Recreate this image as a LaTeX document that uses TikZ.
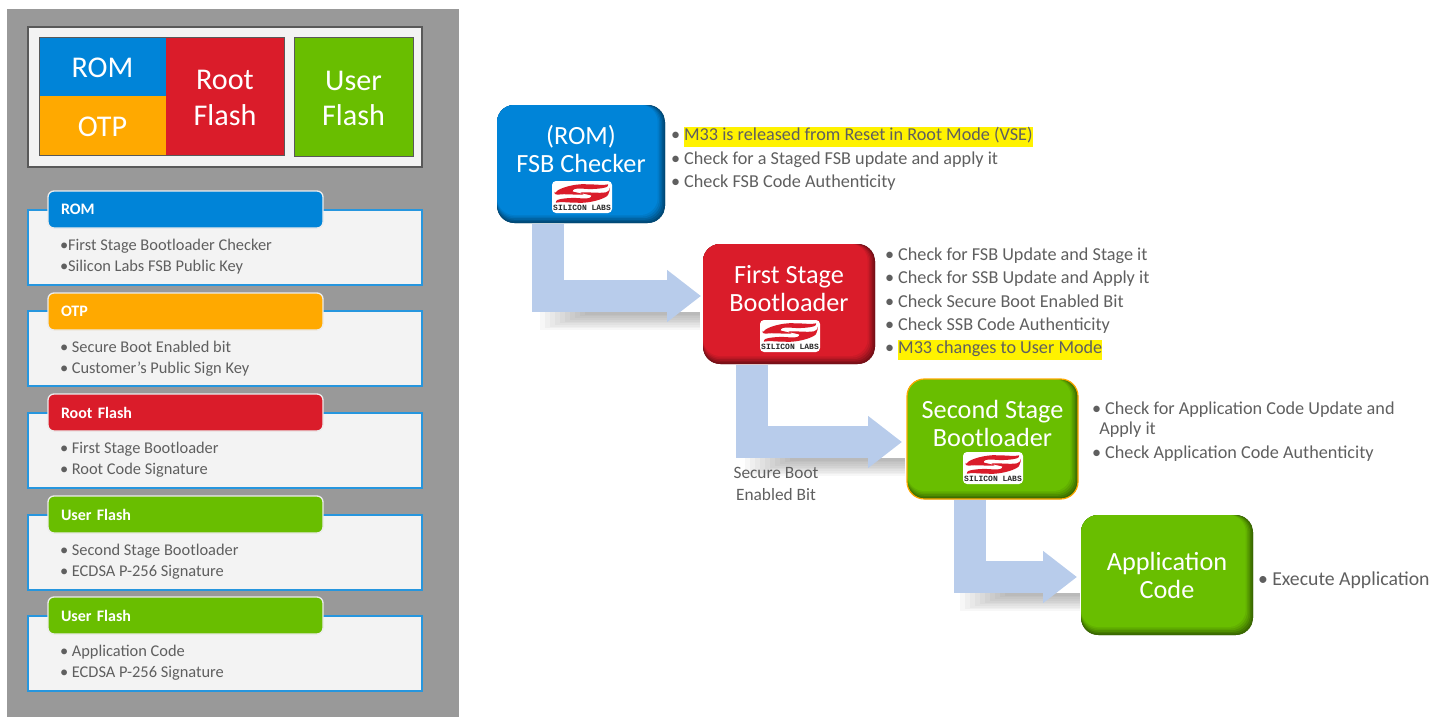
\documentclass[tikz,border=0pt]{standalone}
\usepackage{fontspec}
\setmainfont{Carlito}
\newfontfamily\logofont{Liberation Mono}
\usepackage{tikz}
\usetikzlibrary{arrows.meta,calc,positioning}
\def\px{0.75pt}
\definecolor{romblue}{HTML}{0084D8}
\definecolor{otporange}{HTML}{FFA900}
\definecolor{rootred}{HTML}{DA1C2A}
\definecolor{usergreen}{HTML}{69BE00}
\definecolor{panelgray}{HTML}{999999}
\definecolor{paper}{HTML}{F3F3F3}
\definecolor{inkgray}{HTML}{5F5F5F}
\definecolor{arrowblue}{HTML}{B8CCEB}
\newcommand{\marktext}[1]{{\setlength{\fboxsep}{0pt}\colorbox{yellow}{\rule[-4.6pt]{0pt}{15pt}#1}}}
\newcommand{\topfill}{\rule{0pt}{17.5pt}}
\newcommand{\topfillone}{\rule{0pt}{16pt}}

\begin{document}
\begin{tikzpicture}
[
x=0.75pt, y=-0.75pt,
plainbox/.style={rectangle, inner sep=0pt, outer sep=0pt},
memblock/.style={plainbox, fill=#1, text=white, align=center, font=\fontsize{22.6}{26.5}\selectfont},
cardbody/.style={plainbox, fill=paper, draw=romblue!85!white, line width=1.2pt, anchor=north west, minimum width=394*\px, minimum height=75*\px},
cardhead/.style={plainbox, fill=#1, draw=white!85!gray, line width=1pt, rounded corners=4.5pt, anchor=north west, minimum width=275*\px, minimum height=37*\px, text=white, font=\fontsize{12}{14}\selectfont\bfseries, text width=249*\px, align=left, inner sep=0pt, text depth=0pt},
carditem/.style={plainbox, text=inkgray, align=left, font=\fontsize{12.3}{16}\selectfont},
flowbox/.style={plainbox, fill=#1!45!black, rounded corners=13pt, minimum width=170*\px, minimum height=120*\px, text=white, align=center, font=\fontsize{19.7}{21}\selectfont,
  path picture={
    \foreach \i/\m in {0/55,1/65,2/75,3/85,4/93,5/100}
      \fill[#1!\m!black, rounded corners=13pt]
        (path picture bounding box.north west) ++(0pt,0pt) rectangle
        ([xshift=-\i*1.1pt, yshift=\i*1.2pt]path picture bounding box.south east);
  }},
logobox/.style={plainbox, fill=white, rounded corners=3pt, minimum width=60*\px, minimum height=32*\px,
  path picture={
    \begin{scope}[shift={(path picture bounding box.center)}]
      \fill[rootred]
        (-28,-1.5) .. controls (-24,-8.5) and (-8,-13.5) .. (8,-12.5)
        .. controls (15,-12.5) and (22,-11.5) .. (28,-14)
        .. controls (24,-8.5) and (10,-7.5) .. (0,-8.5)
        .. controls (-9,-8.5) and (-11,-5.5) .. (-4,-4.5)
        .. controls (-1,-3.5) and (2,-3.5) .. (4,-2.5)
        .. controls (-6,-2) and (-18,-3.5) .. (-28,-1.5) -- cycle;
      \fill[rootred]
        (28,-5.5) .. controls (24,1.5) and (8,6.5) .. (-8,5.5)
        .. controls (-15,5.5) and (-22,4.5) .. (-28,7)
        .. controls (-24,1.5) and (-10,0.5) .. (0,1.5)
        .. controls (9,1.5) and (11,-1.5) .. (4,-2.5)
        .. controls (1,-3.5) and (-2,-3.5) .. (-4,-4.5)
        .. controls (6,-5) and (18,-3.5) .. (28,-5.5) -- cycle;
      \node[plainbox, text=black!85, font=\logofont\fontsize{6}{6}\selectfont\bfseries] at (0,10.5) {SILICON LABS};
    \end{scope}
  }},
bulletlist/.style={plainbox, text=inkgray, align=left, font=\fontsize{13.65}{17.5}\selectfont},
flowarrow/.style={draw=arrowblue, line width=32*\px, -{Triangle[length=25.5pt,width=37.5pt]}},
]
\useasboundingbox (0,0) rectangle (1448,717);

%Panel
\node[plainbox, fill=panelgray, anchor=north west, minimum width=452*\px, minimum height=708*\px] (panel) at (7,9) {};
\node[plainbox, fill=paper, draw=black!65, line width=0.8pt, anchor=north west, minimum width=394*\px, minimum height=140*\px] (memframe) at (28,27) {};

%Memory map
\node[memblock=romblue, anchor=north west, minimum width=127*\px, minimum height=59*\px] (rom) at (39,37) {\topfillone ROM};
\node[memblock=otporange, below=0pt of rom, minimum width=127*\px, minimum height=59*\px] (otp) {\topfillone OTP};
\node[memblock=rootred, anchor=north west, minimum width=118*\px, minimum height=118*\px] (root) at (rom.north east) {\topfill Root\\Flash};
\node[memblock=usergreen, anchor=north west, draw=black!65, line width=0.6pt, minimum width=119*\px, minimum height=119*\px] (user) at (294,37) {\topfill User\\Flash};
\draw[black!65, line width=0.6pt] (rom.north west) rectangle (root.south east);

%Cards
\foreach \id/\head/\col/\ytop/\ybody/\lines in {
  a/ROM/romblue/191/210/{•First Stage Bootloader Checker\\•Silicon Labs FSB Public Key},
  b/OTP/otporange/293/311/{• Secure Boot Enabled bit\\• Customer’s Public Sign Key},
  c/Root Flash/rootred/394/413/{• First Stage Bootloader\\• Root Code Signature},
  d/User Flash/usergreen/496/515/{• Second Stage Bootloader\\• ECDSA P-256 Signature},
  e/User Flash/usergreen/597/616/{• Application Code\\• ECDSA P-256 Signature}}
{
  \node[cardbody] (body\id) at (28,\ybody) {};
  \node[cardhead=\col] (head\id) at (48,\ytop) {\head};
  \node[carditem, below right=11*\px and 12*\px of head\id.south west] (item\id) {\lines};
}

%Shadows under arrows
\foreach \xa/\xb/\ysh in {540/700/312, 745/905/458, 960/1080/593}
  \foreach \i in {0,...,9}
    \fill[black, opacity=0.032] (\xa+\i*5,\ysh) rectangle (\xb,\ysh+18-\i*1.7);

%Nodes
\node[flowbox=romblue, minimum width=168*\px, minimum height=118*\px, anchor=north west] (node1) at (497,105) {(ROM)\\FSB Checker\\[2pt]\mbox{}};
\node[flowbox=rootred, minimum width=172*\px, anchor=north west] (node2) at (703,244) {First Stage\\Bootloader\\[2pt]\mbox{}};
\node[flowbox=usergreen, minimum width=171*\px, anchor=north west, draw=otporange, line width=0.9pt] (node3) at (907,379) {Second Stage\\Bootloader\\[2pt]\mbox{}};
\node[flowbox=usergreen, minimum width=172*\px, anchor=north west] (node4) at (1081,515) {Application\\Code};

\node[logobox] (logo1) at ($(node1.south)+(1,-26)$) {};
\node[logobox] (logo2) at ($(node2.south)+(1,-28)$) {};
\node[logobox] (logo3) at ($(node3.south)+(0.5,-31)$) {};

\node[bulletlist, below right=22*\px and 6*\px of node1.north east] (list1)
  {• \marktext{M33 is released from Reset in Root Mode (VSE)}\\• Check for a Staged FSB update and apply it\\• Check FSB Code Authenticity};
\node[bulletlist, below right=4*\px and 10*\px of node2.north east] (list2)
  {• Check for FSB Update and Stage it\\• Check for SSB Update and Apply it\\• Check Secure Boot Enabled Bit\\• Check SSB Code Authenticity\\• \marktext{M33 changes to User Mode}};
\node[bulletlist, below right=23*\px and 14*\px of node3.north east] (list3)
  {• Check for Application Code Update and\\[-2.6pt]\hspace{5.5pt}Apply it\\[0.6pt]• Check Application Code Authenticity};
\node[bulletlist, right=5*\px of node4, yshift=-5*\px, font=\fontsize{14.8}{17.5}\selectfont] (list4) {• Execute Application};
\node[plainbox, text=inkgray, align=center, font=\fontsize{13}{16}\selectfont] (bitlabel) at (776,484) {Secure Boot\\Enabled Bit};

%Lines
\draw[flowarrow] ($(node1.south)+(-33,1)$) |- ($(node2.west)+(-2,-8)$);
\draw[flowarrow] ($(node2.south)+(-37,1)$) |- ($(node3.west)+(-5,3)$);
\draw[flowarrow] ($(node3.south)+(-23,1)$) |- ($(node4.west)+(-4,2)$);
\end{tikzpicture}
\end{document}
